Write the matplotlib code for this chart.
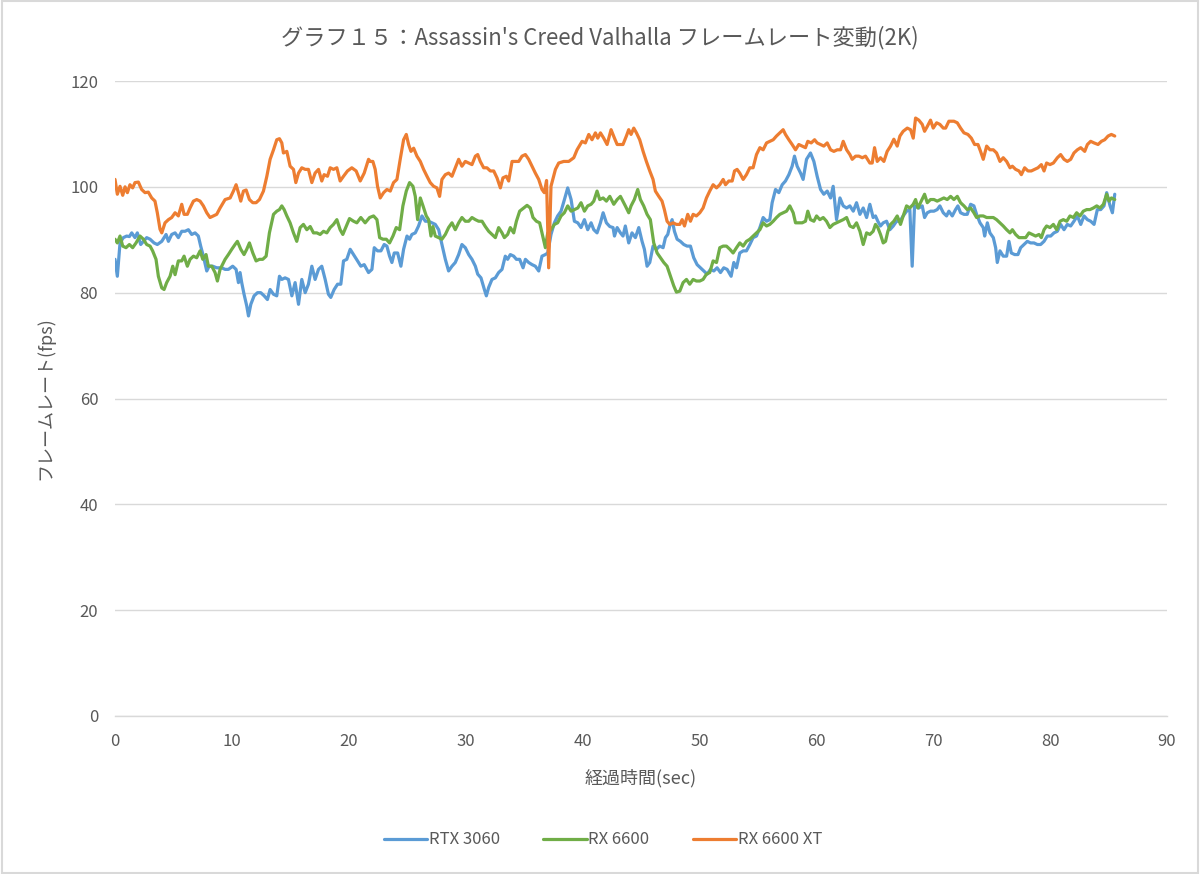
import matplotlib
matplotlib.use("Agg")
import matplotlib.pyplot as plt
from matplotlib.patches import Rectangle

plt.rcParams['font.family'] = ['Noto Sans CJK JP', 'DejaVu Sans']

title = "グラフ１５：Assassin's Creed Valhalla フレームレート変動(2K)"
x_label = "経過時間(sec)"
y_label = "フレームレート(fps)"
series_names = ["RTX 3060", "RX 6600", "RX 6600 XT"]
x_ticks = [0, 10, 20, 30, 40, 50, 60, 70, 80, 90]
y_ticks = [0, 20, 40, 60, 80, 100, 120]

# (time sec, fps)
rtx3060 = [
    (0.0, 86.3), (0.2, 83.1), (0.43, 89.4), (0.71, 90.4), (1.0, 90.7), (1.23, 90.6), (1.43, 91.3), (1.71, 90.4),
    (1.91, 91.3), (2.2, 89.1), (2.43, 89.7), (2.71, 90.4), (3.0, 90.1), (3.34, 89.4), (3.62, 89.1), (4.0, 89.7),
    (4.37, 91.0), (4.57, 89.7), (4.85, 91.0), (5.14, 91.3), (5.42, 90.4), (5.71, 91.6), (5.99, 91.6), (6.28, 91.9),
    (6.56, 91.0), (6.85, 91.3), (7.13, 90.7), (7.33, 88.8), (7.56, 86.9), (7.85, 84.1), (8.05, 85.0), (8.36, 85.0),
    (8.7, 84.7), (9.13, 84.7), (9.42, 84.4), (9.7, 84.4), (10.07, 85.0), (10.36, 84.4), (10.56, 81.9), (10.7, 83.8),
    (10.84, 81.9), (11.04, 79.7), (11.27, 77.5), (11.42, 75.6), (11.62, 77.8), (11.9, 79.4), (12.19, 80.0), (12.47, 80.0),
    (12.76, 79.4), (13.04, 78.7), (13.27, 80.6), (13.56, 79.7), (13.84, 79.4), (14.07, 83.1), (14.27, 82.5), (14.55, 82.8),
    (14.84, 82.5), (15.13, 79.4), (15.41, 81.9), (15.7, 77.8), (15.98, 82.5), (16.27, 80.0), (16.55, 81.6), (16.84, 85.0),
    (17.12, 82.5), (17.41, 84.4), (17.69, 85.0), (17.98, 82.5), (18.26, 79.7), (18.46, 79.1), (18.75, 80.6), (19.04, 81.6),
    (19.32, 81.6), (19.55, 86.0), (19.83, 86.3), (20.12, 88.2), (20.41, 87.2), (20.75, 86.0), (21.03, 85.0), (21.32, 85.3),
    (21.69, 83.8),
    (21.98, 84.4), (22.18, 88.5), (22.46, 87.9), (22.75, 87.9), (23.03, 89.1), (23.26, 88.8), (23.49, 86.9), (23.69, 85.7),
    (23.89, 87.5), (24.18, 87.5), (24.46, 85.0), (24.69, 88.2), (24.98, 90.7), (25.2, 90.1), (25.4, 91.0), (25.69, 91.3),
    (25.97, 92.6), (26.26, 94.5), (26.55, 93.5), (26.83, 93.5), (27.12, 93.2), (27.4, 92.9), (27.69, 91.9), (27.97, 89.1),
    (28.26, 86.3), (28.54, 84.1), (28.83, 85.0), (29.11, 85.7), (29.4, 87.2), (29.68, 89.1), (29.97, 88.5), (30.26, 87.2),
    (30.54, 86.3), (30.83, 85.0), (31.03, 83.5), (31.31, 82.8), (31.6, 80.6), (31.77, 79.4), (31.97, 81.0), (32.25, 82.5),
    (32.54, 82.8), (32.82, 83.8), (33.11, 84.4), (33.39, 86.9), (33.59, 86.3), (33.82, 87.2), (34.11, 86.9), (34.34, 86.3),
    (34.62, 86.3), (34.91, 84.7), (35.11, 86.3), (35.39, 85.7), (35.68, 85.3), (35.96, 85.0), (36.25, 84.1), (36.53, 86.9),
    (36.82, 87.2), (37.02, 87.5), (37.3, 91.0), (37.59, 93.2), (37.87, 94.5), (38.16, 95.4), (38.45, 97.6), (38.73, 99.8),
    (39.02, 97.6), (39.3, 93.5), (39.59, 93.2), (39.87, 92.3), (40.16, 93.8), (40.44, 91.9), (40.73, 93.2), (40.96, 91.9),
    (41.24, 91.3), (41.53, 93.2), (41.76, 95.1), (42.04, 93.2), (42.33, 92.5), (42.61, 92.3), (42.73, 90.7), (42.96, 92.3),
    (43.24, 91.3),
    (43.46, 90.7), (43.66, 92.6), (43.95, 89.4), (44.23, 91.3), (44.52, 90.4), (44.81, 92.3), (45.09, 89.7), (45.29, 88.2),
    (45.52, 85.0), (45.75, 85.7), (46.03, 88.8), (46.32, 88.2), (46.6, 88.8), (46.89, 88.5), (47.09, 90.4), (47.29, 91.0),
    (47.46, 92.6), (47.66, 93.8), (47.86, 91.6), (48.09, 90.1), (48.37, 89.7), (48.66, 89.1), (48.94, 88.8), (49.23, 88.8),
    (49.51, 86.6), (49.8, 85.3), (50.09, 84.7), (50.37, 84.1), (50.66, 83.5), (50.94, 84.4), (51.23, 84.1), (51.51, 84.7),
    (51.8, 83.8), (52.08, 84.7), (52.37, 84.4), (52.71, 83.1), (52.94, 85.7), (53.17, 84.7), (53.45, 87.5), (53.74, 87.9),
    (54.02, 87.9), (54.31, 89.1), (54.59, 90.4), (54.88, 90.7), (55.17, 92.3), (55.45, 94.2), (55.74, 93.5), (56.02, 93.8),
    (56.22, 97.0), (56.51, 99.5), (56.79, 98.9), (57.08, 100.4), (57.36, 101.1), (57.65, 102.3), (57.93, 103.9), (58.13, 105.8),
    (58.36, 103.9), (58.65, 102.6), (58.87, 101.4), (59.16, 105.2), (59.5, 106.4), (59.79, 104.8), (60.07, 102.0), (60.36, 99.5),
    (60.64, 98.6), (60.93, 99.2), (61.22, 97.9), (61.44, 100.1), (61.73, 93.8), (62.02, 97.9), (62.3, 96.4), (62.59, 96.0),
    (62.87, 96.4), (63.16, 95.4), (63.44, 97.0), (63.73, 94.8), (64.01, 96.0), (64.3, 94.2), (64.58, 96.7),
    (64.86, 94.2), (65.06, 94.5), (65.26, 93.5), (65.49, 92.6), (65.72, 93.2), (66.01, 93.5), (66.29, 91.9), (66.58, 92.6),
    (66.86, 93.5), (67.15, 93.5), (67.43, 94.5), (67.72, 95.4), (68.0, 95.7), (68.2, 85.0), (68.4, 96.4), (68.77, 96.0),
    (69.06, 96.4), (69.26, 94.2), (69.49, 95.1), (69.77, 95.4), (70.06, 95.4), (70.34, 95.7), (70.57, 96.4), (70.86, 95.1),
    (71.14, 94.5), (71.34, 95.4), (71.63, 94.5), (71.91, 95.7), (72.11, 96.4), (72.34, 95.1), (72.63, 94.8), (72.91, 94.8),
    (73.2, 96.7), (73.48, 96.4), (73.71, 94.8), (74.0, 93.2), (74.28, 92.3), (74.4, 90.7), (74.63, 93.2), (74.85, 91.3),
    (75.14, 90.4), (75.34, 88.5), (75.48, 85.7), (75.71, 87.9), (75.99, 86.9), (76.28, 86.9), (76.48, 89.7), (76.68, 87.5),
    (76.97, 87.2), (77.25, 87.2), (77.48, 88.5), (77.76, 89.1), (78.05, 89.7), (78.33, 89.4), (78.62, 89.4), (78.91, 89.1),
    (79.19, 89.1), (79.48, 89.7), (79.76, 90.7), (80.05, 90.7), (80.33, 91.3), (80.62, 91.6), (80.9, 92.9), (81.19, 91.9),
    (81.47, 92.9), (81.76, 92.6), (82.04, 93.5), (82.33, 94.5), (82.62, 92.9), (82.9, 94.5), (83.19, 93.8), (83.47, 93.5),
    (83.76, 92.9), (84.04, 95.7), (84.33, 95.7), (84.61, 96.4), (84.84, 98.9), (85.13, 96.4), (85.33, 95.1), (85.53, 98.6),
]

rx6600 = [
    (0.0, 90.1), (0.2, 89.4), (0.43, 90.7), (0.66, 88.8), (0.94, 88.5), (1.23, 89.1), (1.51, 88.5), (1.8, 89.4),
    (2.14, 90.7), (2.43, 90.1), (2.71, 89.1), (3.0, 88.8), (3.22, 87.9), (3.51, 86.3), (3.71, 83.1), (4.0, 80.9),
    (4.2, 80.6), (4.42, 81.9), (4.71, 83.1), (4.94, 85.0), (5.14, 83.4), (5.42, 86.0), (5.71, 86.0), (5.91, 86.9),
    (6.19, 85.0), (6.42, 86.3), (6.71, 86.9), (6.99, 86.6), (7.28, 87.9), (7.51, 86.3), (7.79, 87.2), (7.99, 85.0),
    (8.28, 85.0), (8.56, 83.8), (8.76, 82.2), (8.99, 84.4), (9.42, 86.3), (9.7, 87.2), (9.99, 88.2), (10.27, 89.1),
    (10.47, 89.7), (10.76, 88.2), (11.04, 87.2), (11.27, 88.2), (11.5, 89.4), (11.79, 87.5), (12.07, 86.0), (12.36, 86.3),
    (12.64, 86.3), (12.93, 86.9), (13.21, 91.3), (13.56, 94.8), (13.84, 95.4), (14.07, 95.7), (14.27, 96.4), (14.47, 95.7),
    (14.7, 94.5), (14.98, 93.2), (15.27, 91.3), (15.55, 89.7), (15.84, 92.3), (16.12, 92.9), (16.41, 91.9), (16.7, 92.5),
    (16.98, 91.3), (17.27, 91.3), (17.55, 91.0), (17.84, 91.6), (18.12, 91.3), (18.41, 92.3), (18.69, 92.9), (18.98, 93.8),
    (19.26, 91.9), (19.49, 91.0), (19.78, 92.5), (20.06, 94.0), (20.41, 93.5), (20.69, 93.2), (21.03, 94.2), (21.4, 93.2),
    (21.78, 94.2),
    (22.12, 94.5), (22.41, 93.8), (22.64, 90.4), (22.92, 90.1), (23.21, 90.1), (23.49, 89.4), (23.78, 90.7), (24.06, 92.3),
    (24.35, 91.9), (24.63, 96.4), (24.92, 99.2), (25.2, 100.8), (25.49, 100.1), (25.69, 98.2), (25.89, 93.8), (26.12, 97.9),
    (26.35, 96.4), (26.63, 94.5), (26.83, 93.8), (27.03, 90.7), (27.2, 92.5), (27.4, 90.7), (27.69, 90.4), (27.97, 90.1),
    (28.26, 91.0), (28.54, 92.3), (28.83, 93.2), (29.11, 91.9), (29.4, 93.2), (29.68, 94.2), (29.97, 93.5), (30.26, 93.5),
    (30.54, 94.2), (30.83, 93.8), (31.11, 93.5), (31.4, 93.5), (31.68, 92.5), (31.97, 91.6), (32.25, 91.0), (32.54, 90.4),
    (32.82, 92.3), (33.11, 91.3), (33.31, 90.4), (33.59, 91.0), (33.82, 92.3), (34.11, 91.3), (34.34, 93.5), (34.62, 95.4),
    (34.96, 96.0), (35.25, 96.5), (35.53, 96.0), (35.76, 94.2), (36.05, 93.5), (36.33, 93.2), (36.62, 90.4), (36.82, 88.5),
    (37.02, 91.3), (37.3, 91.9), (37.59, 92.9), (37.87, 93.2), (38.16, 94.5), (38.44, 95.1), (38.73, 96.4), (39.02, 95.4),
    (39.3, 95.7), (39.59, 96.0), (39.87, 97.0), (40.16, 95.4), (40.44, 96.4), (40.73, 96.7), (40.96, 97.3), (41.24, 99.2),
    (41.47, 97.6), (41.76, 97.9), (42.04, 97.3), (42.33, 98.2), (42.67, 96.7), (42.96, 97.6), (43.24, 98.2),
    (43.38, 97.6), (43.66, 96.4), (43.95, 95.1), (44.15, 96.4), (44.43, 97.6), (44.72, 99.5), (44.95, 97.6), (45.23, 96.4),
    (45.52, 94.8), (45.8, 93.8), (46.09, 89.4), (46.38, 87.5), (46.66, 86.6), (46.95, 85.7), (47.23, 85.0), (47.52, 83.1),
    (47.8, 81.3), (48.03, 80.1), (48.32, 80.3), (48.6, 81.9), (48.89, 82.5), (49.17, 81.6), (49.46, 82.5), (49.74, 82.2),
    (50.03, 82.2), (50.31, 82.5), (50.6, 83.5), (50.88, 83.8), (51.17, 86.0), (51.46, 85.7), (51.74, 88.5), (52.03, 88.8),
    (52.31, 88.8), (52.6, 88.2), (52.88, 87.5), (53.17, 88.5), (53.45, 89.4), (53.74, 88.8), (54.02, 89.7), (54.31, 90.1),
    (54.59, 90.7), (54.88, 91.3), (55.17, 91.9), (55.45, 93.2), (55.74, 92.6), (56.02, 92.9), (56.31, 93.5), (56.59, 94.2),
    (56.88, 94.8), (57.16, 95.1), (57.45, 95.4), (57.73, 96.4), (58.02, 95.1), (58.22, 93.2), (58.5, 93.2), (58.79, 93.2),
    (59.07, 93.5), (59.27, 95.4), (59.5, 93.8), (59.79, 93.5), (60.02, 94.5), (60.3, 93.8), (60.59, 94.2), (60.87, 93.5),
    (61.16, 92.3), (61.44, 92.9), (61.73, 93.2), (62.02, 93.5), (62.3, 93.8), (62.59, 94.2), (62.87, 92.6), (63.16, 92.3),
    (63.44, 93.2), (63.73, 91.6), (64.01, 89.1), (64.3, 91.3), (64.58, 91.0),
    (64.86, 91.6), (65.06, 92.9), (65.26, 92.3), (65.49, 91.0), (65.72, 89.4), (65.92, 89.7), (66.12, 91.6), (66.35, 92.9),
    (66.63, 93.5), (66.92, 94.5), (67.2, 92.9), (67.43, 94.5), (67.72, 96.4), (68.0, 96.0), (68.29, 96.7), (68.49, 97.6),
    (68.69, 96.0), (68.97, 97.3), (69.26, 98.6), (69.49, 97.0), (69.77, 97.6), (70.06, 97.6), (70.34, 97.3), (70.63, 97.6),
    (70.91, 97.9), (71.2, 97.6), (71.49, 98.2), (71.77, 97.6), (72.06, 98.2), (72.34, 97.0), (72.63, 96.4), (72.91, 95.7),
    (73.2, 96.0), (73.48, 95.1), (73.71, 94.2), (74.0, 94.5), (74.28, 94.5), (74.57, 94.2), (74.85, 94.2), (75.14, 94.2),
    (75.42, 93.8), (75.71, 93.2), (75.99, 92.6), (76.28, 91.9), (76.57, 91.3), (76.77, 91.9), (77.05, 91.0), (77.34, 90.4),
    (77.62, 90.4), (77.91, 90.4), (78.19, 91.3), (78.48, 91.0), (78.76, 90.7), (79.05, 91.0), (79.25, 90.4), (79.48, 91.9),
    (79.7, 92.6), (79.99, 92.3), (80.28, 92.9), (80.56, 91.9), (80.85, 93.5), (81.13, 93.8), (81.42, 93.5), (81.7, 94.5),
    (81.99, 94.2), (82.27, 95.1), (82.56, 94.5), (82.84, 95.4), (83.13, 95.7), (83.41, 95.7), (83.7, 96.0), (83.99, 96.4),
    (84.27, 96.0), (84.56, 96.7), (84.84, 98.6), (85.04, 97.3), (85.24, 97.9), (85.53, 97.6),
]

rx6600xt = [
    (0.0, 101.4), (0.2, 98.6), (0.43, 100.1), (0.66, 98.4), (0.86, 100.0), (1.06, 98.9), (1.28, 100.4), (1.51, 99.8),
    (1.71, 100.8), (2.0, 100.9), (2.28, 99.5), (2.57, 98.9), (2.85, 99.0), (3.14, 97.9), (3.42, 97.3), (3.62, 95.1),
    (3.85, 92.0), (4.0, 91.3), (4.28, 93.2), (4.57, 93.8), (4.85, 94.2), (5.14, 95.1), (5.42, 94.5), (5.71, 96.7),
    (5.91, 94.8), (6.19, 94.8), (6.42, 96.0), (6.71, 97.3), (6.99, 97.6), (7.28, 97.3), (7.56, 96.4), (7.85, 95.1),
    (8.13, 94.2), (8.42, 94.5), (8.7, 94.8), (8.99, 96.0), (9.42, 97.6), (9.85, 97.9), (10.13, 99.2), (10.36, 100.4),
    (10.56, 98.9), (10.76, 97.3), (10.99, 99.2), (11.22, 99.4), (11.5, 97.6), (11.79, 97.0), (12.07, 97.0), (12.36, 97.6),
    (12.7, 99.2), (12.99, 102.0), (13.27, 105.2), (13.56, 107.0), (13.84, 108.9), (14.07, 109.1), (14.27, 108.3), (14.41, 106.4),
    (14.7, 106.7), (14.98, 103.9), (15.27, 103.3), (15.47, 100.8), (15.7, 102.6), (15.98, 103.6), (16.27, 103.3), (16.55, 103.3),
    (16.84, 100.8), (17.12, 102.6), (17.41, 103.3), (17.69, 101.1), (17.89, 102.3), (18.18, 102.0), (18.41, 103.6), (18.69, 103.3),
    (18.98, 103.6), (19.26, 101.1), (19.55, 102.0), (19.89, 103.0), (20.26, 103.6), (20.63, 103.0), (20.98, 101.1), (21.32, 102.6),
    (21.69, 105.2),
    (21.84, 104.8), (22.06, 104.8), (22.26, 103.3), (22.46, 100.1), (22.69, 97.9), (22.98, 98.9), (23.26, 99.5), (23.55, 99.2),
    (23.83, 100.8), (24.12, 101.4), (24.4, 105.2), (24.69, 108.9), (24.92, 109.9), (25.12, 108.0), (25.32, 106.7), (25.55, 107.3),
    (25.83, 105.8), (26.12, 104.8), (26.4, 103.3), (26.69, 102.0), (26.97, 100.8), (27.26, 100.1), (27.54, 99.8), (27.77, 98.2),
    (27.97, 101.4), (28.26, 102.3), (28.54, 102.6), (28.83, 102.0), (29.11, 103.6), (29.4, 105.2), (29.68, 103.9), (29.97, 104.8),
    (30.26, 104.5), (30.54, 104.2), (30.83, 105.8), (31.03, 106.1), (31.25, 104.8), (31.54, 103.6), (31.82, 103.6), (32.11, 103.0),
    (32.4, 103.0), (32.68, 101.7), (32.97, 99.8), (33.19, 101.7), (33.48, 102.0), (33.68, 101.1), (33.97, 104.8), (34.25, 104.8),
    (34.54, 104.8), (34.82, 105.8), (35.11, 106.1), (35.39, 105.2), (35.68, 103.9), (35.96, 102.6), (36.25, 101.4), (36.53, 99.5),
    (36.73, 98.9), (36.92, 101.2), (37.1, 84.7), (37.3, 100.1), (37.68, 103.3), (37.96, 104.5), (38.39, 104.8), (38.82, 104.8),
    (39.25, 105.5), (39.53, 107.0), (39.96, 108.6), (40.24, 108.3), (40.53, 109.9), (40.81, 108.9), (41.1, 110.2), (41.3, 109.2),
    (41.53, 110.2), (41.81, 109.2), (42.1, 108.0), (42.44, 110.8), (42.73, 109.2), (42.96, 108.0), (43.24, 108.0),
    (43.46, 108.0), (43.75, 109.6), (43.95, 110.8), (44.15, 109.9), (44.38, 111.1), (44.61, 110.2), (44.89, 108.9), (45.18, 106.7),
    (45.46, 104.8), (45.75, 103.0), (46.03, 101.4), (46.23, 99.2), (46.52, 98.2), (46.8, 97.3), (47.0, 95.7), (47.23, 93.5),
    (47.46, 92.9), (47.75, 93.2), (48.03, 92.9), (48.32, 92.9), (48.52, 93.8), (48.72, 92.6), (49.0, 94.8), (49.23, 93.5),
    (49.46, 94.8), (49.74, 94.5), (50.03, 95.1), (50.31, 96.0), (50.6, 97.9), (50.88, 99.2), (51.17, 100.4), (51.46, 99.8),
    (51.74, 100.4), (52.03, 101.4), (52.23, 100.4), (52.51, 101.1), (52.8, 101.1), (53.0, 103.0), (53.22, 103.3), (53.45, 102.6),
    (53.74, 101.4), (54.02, 102.3), (54.31, 103.6), (54.59, 103.6), (54.88, 106.1), (55.17, 107.4), (55.45, 107.0), (55.74, 108.3),
    (56.02, 108.6), (56.31, 108.9), (56.59, 109.6), (56.88, 110.2), (57.16, 110.8), (57.36, 109.9), (57.65, 108.9), (57.93, 108.0),
    (58.22, 107.0), (58.5, 108.0), (58.79, 107.7), (59.07, 107.4), (59.27, 108.6), (59.56, 108.3), (59.85, 108.9), (60.07, 108.3),
    (60.36, 108.0), (60.64, 107.7), (60.93, 108.3), (61.22, 107.0), (61.5, 106.7), (61.79, 107.0), (62.07, 107.0), (62.3, 108.6),
    (62.59, 107.0), (62.87, 106.1), (63.07, 105.2), (63.36, 105.8), (63.64, 105.8), (63.93, 105.5), (64.21, 105.8), (64.58, 104.5),
    (64.78, 104.5), (64.98, 107.4), (65.21, 104.8), (65.49, 105.5), (65.78, 104.8), (66.06, 106.7), (66.35, 107.7), (66.63, 109.0),
    (66.92, 107.7), (67.15, 109.6), (67.43, 110.5), (67.78, 111.1), (68.06, 110.8), (68.29, 109.2), (68.49, 113.0), (68.77, 112.6),
    (69.06, 111.8), (69.26, 110.5), (69.49, 111.4), (69.77, 112.6), (70.0, 111.1), (70.29, 112.1), (70.57, 111.8), (70.86, 111.1),
    (71.06, 111.1), (71.34, 112.4), (71.77, 112.4), (72.06, 112.1), (72.34, 111.1), (72.63, 110.2), (72.97, 109.9), (73.26, 109.2),
    (73.54, 108.0), (73.83, 108.0), (74.05, 106.7), (74.28, 105.2), (74.57, 107.7), (74.85, 107.0), (75.14, 107.0), (75.42, 106.4),
    (75.71, 104.8), (75.99, 105.5), (76.28, 104.8), (76.57, 103.6), (76.77, 103.9), (77.05, 103.3), (77.34, 103.0), (77.54, 102.3),
    (77.82, 103.6), (78.11, 103.0), (78.39, 103.0), (78.68, 103.3), (78.96, 103.6), (79.25, 104.2), (79.48, 103.0), (79.7, 104.5),
    (79.99, 104.2), (80.28, 104.5), (80.62, 105.5), (80.9, 106.1), (81.19, 105.2), (81.47, 104.8), (81.76, 105.2), (82.04, 106.4),
    (82.33, 107.0), (82.62, 107.4), (82.96, 106.7), (83.19, 108.0), (83.47, 108.6), (83.76, 108.3), (84.1, 108.0), (84.39, 108.6),
    (84.67, 108.9), (84.96, 109.6), (85.24, 109.9), (85.53, 109.6),
]

colors = ["#5B9BD5", "#70AD47", "#ED7D31"]
text_color = "#595959"
grid_color = "#D9D9D9"

fig = plt.figure(figsize=(12, 8.74), dpi=100)
ax = fig.add_axes([115 / 1200, 1 - 716 / 874, (1167 - 115) / 1200, (716 - 81) / 874])

for data, name, c in zip([rtx3060, rx6600, rx6600xt], series_names, colors):
    xs = [p[0] for p in data]
    ys = [p[1] for p in data]
    ax.plot(xs, ys, color=c, lw=2.3, label=name, solid_joinstyle='round', solid_capstyle='round')

ax.set_xlim(0, 90)
ax.set_ylim(0, 120)
ax.set_xticks(x_ticks)
ax.set_yticks(y_ticks)
ax.grid(axis='y', color=grid_color, lw=1.0)
ax.set_axisbelow(True)
for s in ['top', 'right', 'left']:
    ax.spines[s].set_visible(False)
ax.spines['bottom'].set_color(grid_color)
ax.spines['bottom'].set_linewidth(1.0)
ax.tick_params(axis='both', length=0, labelsize=12, colors=text_color)
ax.tick_params(axis='y', pad=12)
ax.tick_params(axis='x', pad=12)

fig.text(600 / 1200, 1 - 38 / 874, title, ha='center', va='center',
         fontsize=16, color=text_color)
fig.text(641 / 1200, 1 - 778 / 874, x_label, ha='center', va='center', fontsize=13, color=text_color)
fig.text(45 / 1200, 1 - 398 / 874, y_label, ha='center', va='center', rotation=90, fontsize=13, color=text_color)

leg = fig.legend(loc='center', bbox_to_anchor=(603 / 1200, 1 - 840 / 874), ncol=3, frameon=False,
                 fontsize=12, handlelength=2.6, handletextpad=0.1, columnspacing=2.6)
for t in leg.get_texts():
    t.set_color(text_color)

fig.patches.append(Rectangle((2 / 1200, 1 / 874), 1196 / 1200, 872 / 874, transform=fig.transFigure,
                             fill=False, edgecolor=grid_color, lw=1.5))

fig.savefig("out.png", dpi=100, facecolor="white")
